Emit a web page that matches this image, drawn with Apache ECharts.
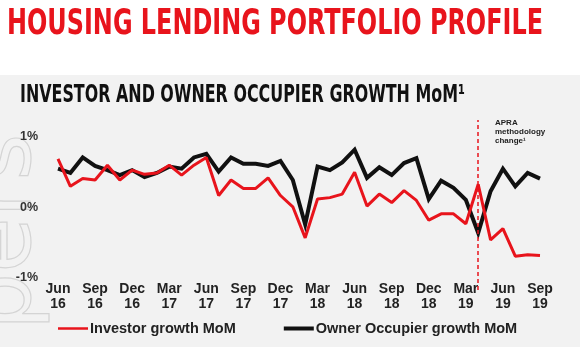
<!DOCTYPE html>
<html>
<head>
<meta charset="utf-8">
<script src="https://cdn.jsdelivr.net/npm/echarts@6/dist/echarts.min.js"></script>
<style>
  html, body { margin: 0; padding: 0; background: #fff; }
  #chart { width: 580px; height: 352px; }
</style>
</head>
<body>
<div id="chart"></div>
<script>
const months = [
  "Jun 16", "Jul 16", "Aug 16", "Sep 16", "Oct 16", "Nov 16", "Dec 16", "Jan 17",
  "Feb 17", "Mar 17", "Apr 17", "May 17", "Jun 17", "Jul 17", "Aug 17", "Sep 17",
  "Oct 17", "Nov 17", "Dec 17", "Jan 18", "Feb 18", "Mar 18", "Apr 18", "May 18",
  "Jun 18", "Jul 18", "Aug 18", "Sep 18", "Oct 18", "Nov 18", "Dec 18", "Jan 19",
  "Feb 19", "Mar 19", "Apr 19", "May 19", "Jun 19", "Jul 19", "Aug 19", "Sep 19",
];

// % growth month on month
const investorGrowth = [
  0.69, 0.30, 0.41, 0.39, 0.60, 0.39, 0.53, 0.47, 0.49, 0.60,
  0.46, 0.60, 0.71, 0.17, 0.39, 0.27, 0.27, 0.42, 0.17, 0.01,
  -0.43, 0.12, 0.14, 0.19, 0.50, 0.02, 0.19, 0.07, 0.24, 0.10,
  -0.18, -0.09, -0.09, -0.23, 0.33, -0.46, -0.30, -0.69, -0.67, -0.68,
];

const ownerOccupierGrowth = [
  0.55, 0.49, 0.71, 0.59, 0.53, 0.46, 0.53, 0.43, 0.49, 0.58,
  0.55, 0.71, 0.76, 0.51, 0.71, 0.62, 0.62, 0.59, 0.66, 0.39,
  -0.24, 0.58, 0.53, 0.64, 0.82, 0.42, 0.57, 0.46, 0.63, 0.70,
  0.12, 0.38, 0.28, 0.11, -0.36, 0.23, 0.55, 0.30, 0.49, 0.41,
];

const yTicks = [-1, 0, 1];
const methodologyChangeMonth = "Apr 19";

const RED = "#e8141c";
const BLACK = "#111111";

// squeeze a bold heading into the width it takes in the slide
const fitScale = (text, font, target) => {
  const ctx = document.createElement("canvas").getContext("2d");
  ctx.font = font;
  const w = ctx.measureText(text).width;
  return w ? target / w : 1;
};

// legend swatch: a bar of given thickness centred in a 30x12 box
const barIcon = (h) => {
  const top = 6 - h / 2;
  return `path://M0,0L0,0M0,${top}L30,${top}L30,${top + h}L0,${top + h}ZM30,12L30,12`;
};

const TITLE = "HOUSING LENDING PORTFOLIO PROFILE";
const SUBTITLE = "INVESTOR AND OWNER OCCUPIER GROWTH MoM\u00b9";
const titleFont = 'bold 36px "Liberation Sans Narrow", "DejaVu Sans Condensed", sans-serif';
const subFont = 'bold 25px "Liberation Sans Narrow", "DejaVu Sans Condensed", sans-serif';

const chart = echarts.init(document.getElementById("chart"));

chart.setOption({
  animation: false,
  backgroundColor: "#ffffff",
  graphic: [
    {
      type: "rect",
      z: -100,
      shape: { x: 0, y: 75, width: 580, height: 272 },
      style: { fill: "#f2f2f2" },
    },
    {
      type: "text",
      z: -90,
      x: 52,
      y: 330,
      rotation: Math.PI / 2,
      style: {
        text: "pers",
        font: '90px "DejaVu Sans", sans-serif',
        fill: "none",
        stroke: "#d4d4d4",
        lineWidth: 1.2,
        textVerticalAlign: "bottom",
      },
    },
    {
      type: "text",
      x: 7,
      y: 7,
      scaleX: fitScale(TITLE, titleFont, 536),
      style: { text: TITLE, font: titleFont, fill: RED },
    },
    {
      type: "text",
      x: 20,
      y: 83,
      scaleX: fitScale(SUBTITLE, subFont, 445),
      style: { text: SUBTITLE, font: subFont, fill: "#111" },
    },
    {
      type: "text",
      x: 495,
      y: 118,
      style: {
        text: "APRA\nmethodology\nchange\u00b9",
        font: 'bold 8px "Liberation Sans", Arial, sans-serif',
        lineHeight: 9,
        fill: "#222",
      },
    },
  ],
  legend: {
    data: [
      { name: "Investor growth MoM", icon: barIcon(2.5) },
      { name: "Owner Occupier growth MoM", icon: barIcon(4) },
    ],
    left: 53,
    top: 316,
    itemWidth: 30,
    itemHeight: 12,
    itemGap: 48,
    textStyle: {
      fontFamily: '"Liberation Sans", Arial, sans-serif',
      fontWeight: "bold",
      fontSize: 14.5,
      color: "#222",
      padding: [0, 0, 0, -3],
    },
  },
  grid: { left: 58, right: 40, top: 120, bottom: 62 },
  xAxis: {
    type: "category",
    data: months,
    boundaryGap: false,
    offset: -16,
    axisLine: { show: false },
    axisTick: { show: false },
    axisLabel: {
      interval: 2,
      formatter: (v) => v.replace(" ", "\n"),
      fontFamily: '"Liberation Sans", Arial, sans-serif',
      fontWeight: "bold",
      fontSize: 14,
      lineHeight: 15,
      color: "#222",
    },
  },
  yAxis: {
    type: "value",
    min: -1.17,
    max: 1.241,
    splitLine: { show: false },
    axisLine: { show: false },
    axisTick: { show: false },
    axisLabel: {
      customValues: yTicks,
      margin: 20,
      formatter: (v) => `${Math.round(v)}%`,
      fontFamily: '"Liberation Sans", Arial, sans-serif',
      fontWeight: "bold",
      fontSize: 12.5,
      color: "#333",
    },
  },
  series: [
    {
      name: "Owner Occupier growth MoM",
      type: "line",
      data: ownerOccupierGrowth,
      symbol: "none",
      z: 2,
      lineStyle: { color: BLACK, width: 4, join: "miter" },
      itemStyle: { color: BLACK },
    },
    {
      name: "Investor growth MoM",
      type: "line",
      data: investorGrowth,
      symbol: "none",
      z: 3,
      lineStyle: { color: RED, width: 3 },
      itemStyle: { color: RED },
      markLine: {
        silent: true,
        symbol: ["none", "none"],
        label: { show: false },
        lineStyle: { color: RED, type: [4, 3], width: 1.5 },
        data: [{ xAxis: methodologyChangeMonth }],
      },
    },
  ],
});
</script>
</body>
</html>
